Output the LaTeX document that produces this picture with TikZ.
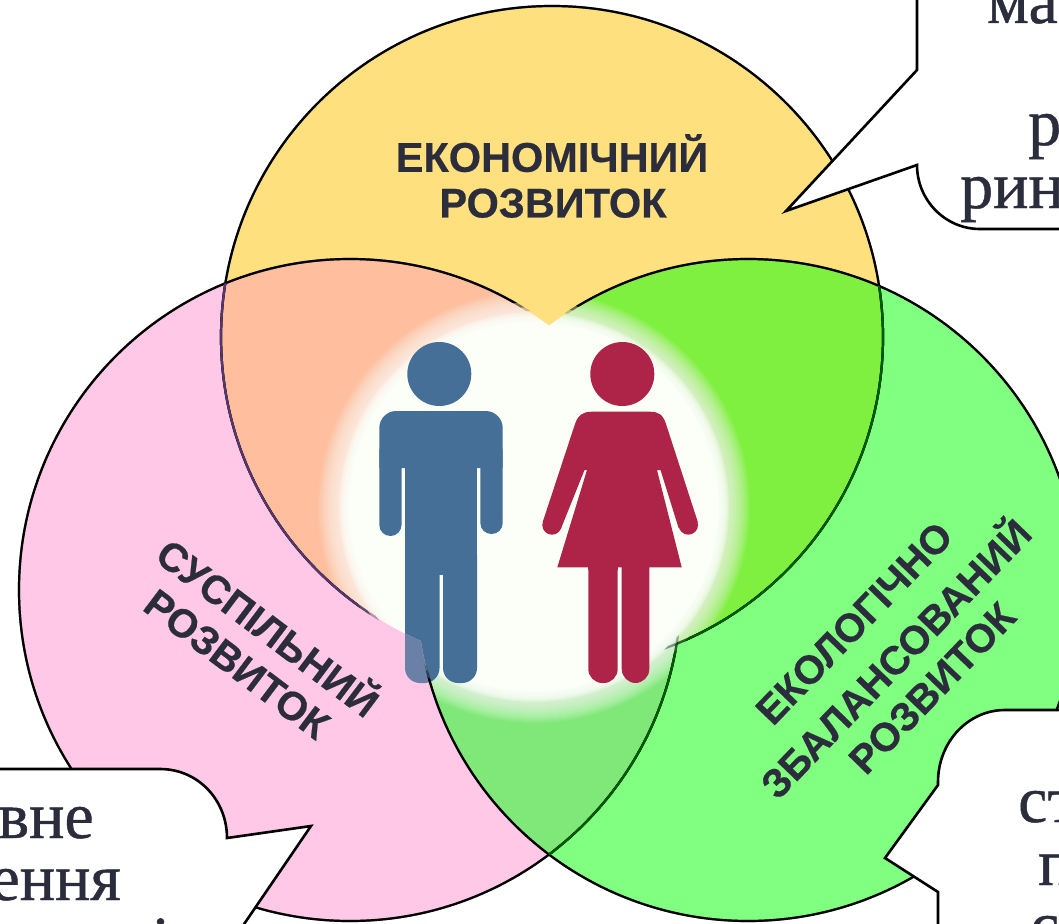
\documentclass[tikz,border=0pt]{standalone}
\usepackage{fontspec}
\setmainfont{Liberation Serif}[FakeBold=0.7]
\newfontfamily\labfont{Liberation Sans}[BoldFeatures={FakeBold=0.5}]
\definecolor{cY}{HTML}{FFE07F}
\definecolor{cP}{HTML}{FFC8E6}
\definecolor{cG}{HTML}{80FF80}
\definecolor{cYP}{HTML}{FFBF9F}
\definecolor{cYG}{HTML}{80F040}
\definecolor{cPG}{HTML}{80E878}
\definecolor{cMan}{HTML}{466F97}
\definecolor{cWoman}{HTML}{AE2449}
\definecolor{cTxt}{HTML}{2C2D3C}
\definecolor{cBlob}{HTML}{FBFFF8}
\def\Yc{(552,337) circle (331pt)}
\def\Pc{(350,590) circle (331pt)}
\def\Gc{(748,590) circle (331pt)}
\def\Outer{(1150,-60) rectangle (-60,1000)}
\tikzset{
  edgeline/.style={line width=2.2pt},
  circlabel/.style={font=\labfont\bfseries\fontsize{40}{47}\selectfont,text=cTxt,inner sep=0pt,text depth=0pt},
  callouttext/.style={font=\fontsize{66}{66}\selectfont,text=cTxt,inner sep=0pt},
  calloutbox/.style={fill=white,draw=black,line width=2.6pt,line join=miter},
}
\newcommand\edgeset{%
  \draw[edgeline,black] \Pc;
  \draw[edgeline,black] \Gc;
  \draw[edgeline,black] \Yc;
  \begin{scope}\clip \Gc; \draw[edgeline,color=black!55!green!80!black] \Yc; \draw[edgeline,color=black!55!green!80!black] \Pc;\end{scope}
  \begin{scope}\clip \Pc; \draw[edgeline,color={rgb,255:red,85;green,55;blue,110}] \Yc;\end{scope}
}
\newcommand\manshape{%
  \fill (379.3,468) -- (379.3,428) arc[start angle=180,end angle=90,radius=17pt] -- (485.7,411) arc[start angle=90,end angle=0,radius=17pt] -- (502.7,468) -- cycle;
  \fill (405,411) rectangle (477,575);
  \fill[rounded corners=11pt] (379.3,440) -- (379.3,536) -- (401.5,536) -- (401.5,440) -- cycle;
  \fill[rounded corners=11pt] (480.3,440) -- (480.3,534) -- (502.7,534) -- (502.7,440) -- cycle;
  \fill[rounded corners=15pt] (405,540) -- (405,683) -- (439.5,683) -- (439.5,540) -- cycle;
  \fill[rounded corners=15pt] (443,540) -- (443,683) -- (477,683) -- (477,540) -- cycle;
  \fill (405,500) rectangle (477,568);
}
\begin{document}
\begin{tikzpicture}[x=1pt,y=-1pt]
\useasboundingbox (0,0) rectangle (1059,923);
\clip (0,0) rectangle (1059,923);
\fill[white] (0,0) rectangle (1059,923);
% base discs
\fill[cP] \Pc;
\fill[cG] \Gc;
\fill[cY] \Yc;
\begin{scope}\clip \Yc; \fill[cYP] \Pc;\end{scope}
\begin{scope}\clip \Yc; \fill[cYG] \Gc;\end{scope}
\begin{scope}\clip \Pc; \fill[cPG] \Gc;\end{scope}
% central glow
\foreach \r in {216,215,...,196}{\fill[cBlob,opacity=.06] (534,507) circle (\r pt);}
\foreach \r in {195,194,...,184}{\fill[cBlob,opacity=.25] (534,507) circle (\r pt);}
\fill[cBlob] (534,507) circle (185pt);
% figures
\fill[cMan] (439.3,374) circle (32pt);
\begin{scope}[fill=cMan]\manshape\end{scope}
\fill[cWoman] (622.3,374) circle (32pt);
\fill[cWoman] (592,411.7) -- (650,411.7) .. controls (659,411.7) and (663,415) .. (666,424) -- (697.8,522) -- (678.6,528) -- (660.5,470) -- (657,470) -- (681.7,567.3) -- (557.3,567.3) -- (587,470) -- (584.5,470) -- (561.2,528) -- (542.7,522) -- (575,424) .. controls (578,415) and (583,411.7) .. (592,411.7) -- cycle;
\fill[cWoman] (552,525) circle (9.7pt);
\fill[cWoman] (688.3,525) circle (9.7pt);
\fill[cWoman,rounded corners=14pt] (588.3,540) -- (588.3,683) -- (617.7,683) -- (617.7,540) -- cycle;
\fill[cWoman,rounded corners=14pt] (621.7,540) -- (621.7,683) -- (649.3,683) -- (649.3,540) -- cycle;
\fill[cWoman] (588.3,540) rectangle (617.7,570);
\fill[cWoman] (621.7,540) rectangle (649.3,570);
% single-colour regions lie over the glow
\begin{scope}[even odd rule]
  \begin{scope}\clip \Outer \Yc; \begin{scope}\clip \Outer \Gc; \fill[cP] \Pc;
     \begin{scope}[fill=cMan,opacity=.8]\clip \Pc; \manshape\end{scope}
  \end{scope}\end{scope}
  \begin{scope}\clip \Outer \Yc; \begin{scope}\clip \Outer \Pc; \fill[cG] \Gc;\end{scope}\end{scope}
  \begin{scope}\clip \Outer \Pc; \begin{scope}\clip \Outer \Gc; \fill[cY] \Yc;\end{scope}\end{scope}
\end{scope}
% circle outlines fading into the glow
\begin{scope}[even odd rule]\clip \Outer (535,505) circle (194pt); \begin{scope}[opacity=.2]\edgeset\end{scope}\end{scope}
\begin{scope}[even odd rule]\clip \Outer (535,505) circle (198pt); \begin{scope}[opacity=.4]\edgeset\end{scope}\end{scope}
\begin{scope}[even odd rule]\clip \Outer (535,505) circle (203pt); \edgeset\end{scope}
% circle labels
\node[circlabel,font=\labfont\bfseries\fontsize{41.5}{47}\selectfont] (e1) at (552,153) {ЕКОНОМІЧНИЙ};
\node[circlabel,font=\labfont\bfseries\fontsize{41.5}{47}\selectfont] (e2) at (553,203) {РОЗВИТОК};
\node[circlabel,rotate=-37] (s1) at (270,625) {СУСПІЛЬНИЙ};
\node[circlabel,rotate=-37] (s2) at (237,664) {РОЗВИТОК};
\node[circlabel,rotate=46] (g1) at (854,623) {ЕКОЛОГІЧНО};
\node[circlabel,rotate=46] (g2) at (893,656) {ЗБАЛАНСОВАНИЙ};
\node[circlabel,rotate=46] (g3) at (932,688) {РОЗВИТОК};
% callouts
\coordinate (tipA) at (786,211);
\coordinate (tipB) at (311,826);
\coordinate (tipC) at (885,858);
\draw[calloutbox] (917,-10) -- (917,70) -- (tipA) -- (917,165) .. controls (917,200) and (945,229) .. (980,229) -- (1070,229) -- (1070,-10) -- cycle;
\draw[calloutbox] (-10,769) -- (160,769) .. controls (198,769) and (227,800) .. (227,838) -- (tipB) -- (240,930) -- (-10,930) -- cycle;
\draw[calloutbox] (1070,710) -- (1005,710) .. controls (968,710) and (938,742) .. (938,782) -- (938,785) -- (tipC) -- (938,892) -- (938,930) -- (1070,930) -- cycle;
% callout text
\node[callouttext,anchor=base west] (t1) at (987,23) {ма};
\node[callouttext,anchor=base west] (t2) at (1028,145) {р};
\node[callouttext,anchor=base west] (t3) at (960,208) {рин};
\node[callouttext,anchor=base east] (t4) at (94,838) {вне};
\node[callouttext,anchor=base east] (t5) at (121,900) {ення};
\node[callouttext,anchor=base] (t6) at (161,962) {і};
\node[callouttext,anchor=base west] (t7) at (1018,822) {ст};
\node[callouttext,anchor=base west] (t8) at (1038,885) {п};
\node[callouttext,anchor=base west] (t9) at (1030,947) {с};
\end{tikzpicture}
\end{document}
